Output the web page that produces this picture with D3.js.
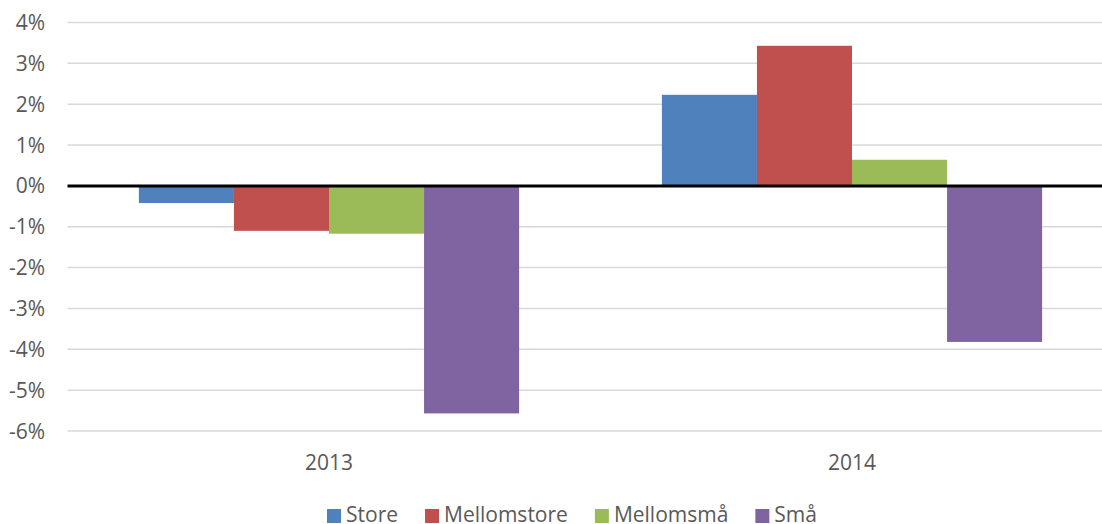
<!DOCTYPE html>
<html>
<head>
<meta charset="utf-8">
<script src="https://cdn.jsdelivr.net/npm/d3@7"></script>
<style>
  body { margin: 0; background: #fff; }
  svg { display: block; font-family: "Open Sans", Lato, sans-serif; }
</style>
</head>
<body>
<svg id="chart" width="1102" height="524"></svg>
<script>
var years = ["2013", "2014"],
  series = ["Store", "Mellomstore", "Mellomsmå", "Små"],
  colors = ["#4F81BD", "#C0504D", "#9BBB59", "#8064A2"],
  store = [-0.42, 2.23],
  mellomstore = [-1.10, 3.43],
  mellomsmaa = [-1.17, 0.64],
  smaa = [-5.57, -3.82],
  yTicks = [4, 3, 2, 1, 0, -1, -2, -3, -4, -5, -6];

var values = [store, mellomstore, mellomsmaa, smaa];

var svg = d3.select("#chart"),
  plotLeft = 67.5, plotRight = 1113.5, plotTop = 22.5, plotBottom = 431,
  fontSize = "21px", textColor = "#595959";

var y = d3.scaleLinear().domain([-6, 4]).range([plotBottom, plotTop]);
var x0 = d3.scaleBand().domain(years).range([plotLeft, plotRight]).paddingInner(0.273).paddingOuter(0.1365);
var x1 = d3.scaleBand().domain(series).range([0, x0.bandwidth()]);
var color = d3.scaleOrdinal().domain(series).range(colors);

// gridlines
svg.append("g").selectAll("line").data(yTicks.filter(function (d) { return d !== 0; }))
  .enter().append("line")
  .attr("x1", plotLeft).attr("x2", plotRight)
  .attr("y1", function (d) { return y(d); }).attr("y2", function (d) { return y(d); })
  .attr("stroke", "#d9d9d9").attr("stroke-width", 1.5);

// y labels
svg.append("g").selectAll("text").data(yTicks)
  .enter().append("text")
  .attr("x", 45).attr("y", function (d) { return y(d); })
  .attr("dy", "0.36em").attr("text-anchor", "end")
  .attr("fill", textColor).style("font-size", fontSize)
  .text(function (d) { return d + "%"; });

// bars
series.forEach(function (s, i) {
  svg.append("g").selectAll("rect").data(values[i])
    .enter().append("rect")
    .attr("x", function (d, j) { return x0(years[j]) + x1(s); })
    .attr("width", x1.bandwidth())
    .attr("y", function (d) { return y(Math.max(0, d)); })
    .attr("height", function (d) { return Math.abs(y(d) - y(0)); })
    .attr("fill", color(s));
});

// zero line
svg.append("line")
  .attr("x1", plotLeft).attr("x2", plotRight)
  .attr("y1", y(0)).attr("y2", y(0))
  .attr("stroke", "#000").attr("stroke-width", 3);

// x labels
svg.append("g").selectAll("text").data(years)
  .enter().append("text")
  .attr("x", function (d) { return x0(d) + x0.bandwidth() / 2; })
  .attr("y", 470).attr("text-anchor", "middle")
  .attr("fill", textColor).style("font-size", fontSize)
  .text(function (d) { return d; });

// legend, laid out from measured text widths, centred
var leg = svg.append("g");
var items = leg.selectAll("g").data(series).enter().append("g");
items.append("rect").attr("width", 14).attr("height", 14).attr("y", 509)
  .attr("fill", function (d) { return color(d); });
items.append("text").attr("x", 19).attr("y", 522)
  .attr("fill", textColor).style("font-size", fontSize)
  .text(function (d) { return d; });

var xpos = 0, offs = [];
items.each(function () {
  offs.push(xpos);
  xpos += 19 + d3.select(this).select("text").node().getComputedTextLength() + 27;
});
var total = xpos - 27, start = 572 - total / 2;
items.attr("transform", function (d, i) { return "translate(" + (start + offs[i]) + ",0)"; });
</script>
</body>
</html>
